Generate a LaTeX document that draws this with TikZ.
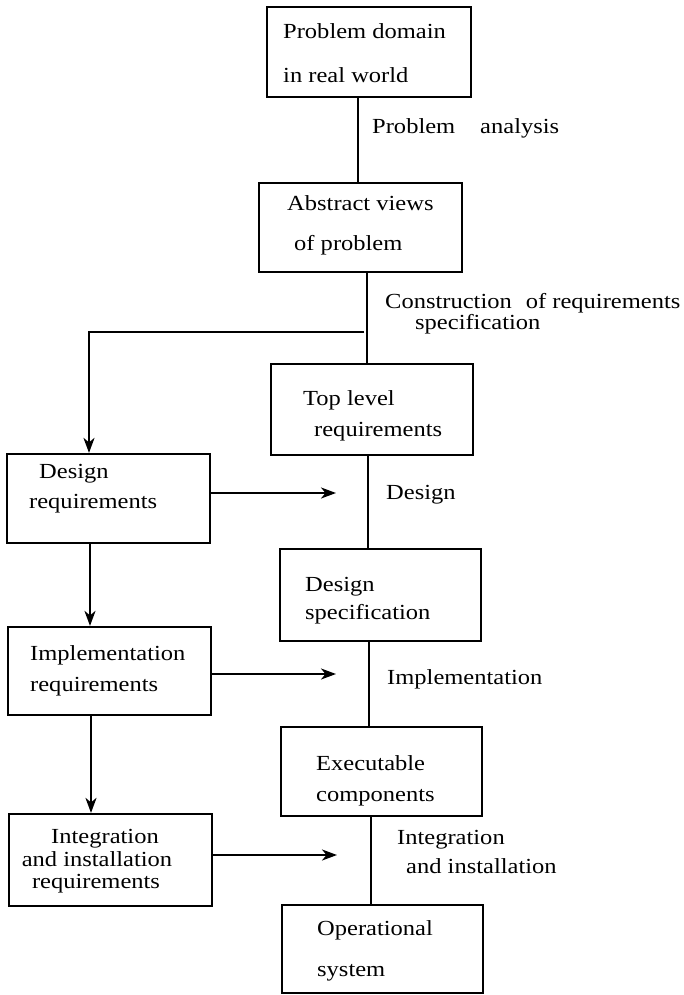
\documentclass[tikz,border=0pt]{standalone}
\usepackage{fontspec}
\setmainfont[FakeStretch=1.14]{Liberation Serif}
\usetikzlibrary{arrows.meta}
\begin{document}
\begin{tikzpicture}[x=1pt,y=-1pt,
  box/.style={draw, line width=2.2pt, inner sep=0pt},
  lbl/.style={inner sep=0pt, anchor=base west, font=\fontsize{21.5}{24}\selectfont},
  clbl/.style={inner sep=0pt, anchor=base, font=\fontsize{21.5}{24}\selectfont},
  spine/.style={line width=1.3pt},
  arr/.style={line width=2.2pt, -{Stealth[length=15pt,width=11pt,inset=4.5pt]}}]

% page frame
\fill[white] (0,0) rectangle (683,995);
\useasboundingbox (0,0) rectangle (683,995);

% main development chain (right column)
\node[box, minimum width=204pt, minimum height=90pt] (B1) at (369,52) {};
\node[box, minimum width=203pt, minimum height=89pt] (B2) at (360.5,227.5) {};
\node[box, minimum width=202pt, minimum height=91pt] (B3) at (372,409.5) {};
\node[box, minimum width=201pt, minimum height=92pt] (B4) at (380.5,595) {};
\node[box, minimum width=201pt, minimum height=89pt] (B5) at (381.5,771.5) {};
\node[box, minimum width=201pt, minimum height=88pt] (B6) at (382.5,949) {};

% requirements chain (left column)
\node[box, minimum width=203pt, minimum height=89pt] (L1) at (108.5,498.5) {};
\node[box, minimum width=203pt, minimum height=88pt] (L2) at (109.5,671) {};
\node[box, minimum width=203pt, minimum height=92pt] (L3) at (110.5,860) {};

% box texts
\node[lbl] (t1a) at (283,39) {Problem domain};
\node[lbl] (t1b) at (283,83) {in real world};
\node[lbl] (t2a) at (287,210) {Abstract views};
\node[lbl] (t2b) at (294,250) {of problem};
\node[lbl] (t3a) at (303,405) {Top level};
\node[lbl] (t3b) at (314,436) {requirements};
\node[lbl] (t4a) at (305,591) {Design};
\node[lbl] (t4b) at (305,619) {specification};
\node[lbl] (t5a) at (316,770) {Executable};
\node[lbl] (t5b) at (316,801) {components};
\node[lbl] (t6a) at (317,935) {Operational};
\node[lbl] (t6b) at (317,976) {system};

\node[lbl] (l1a) at (39,478) {Design};
\node[lbl] (l1b) at (29,508) {requirements};
\node[lbl] (l2a) at (30,660) {Implementation};
\node[lbl] (l2b) at (30,691) {requirements};
\node[clbl] (l3a) at (105,843) {Integration};
\node[clbl] (l3b) at (97,866) {and installation};
\node[clbl] (l3c) at (96,888) {requirements};

% step labels beside the spine
\node[lbl] (pa) at (372,134) {Problem\hspace{25pt}analysis};
\node[lbl] (cr) at (385,308) {Construction\hspace{14pt}of requirements};
\node[lbl] (cs) at (415,329) {specification};
\node[lbl] (dl) at (386,499) {Design};
\node[lbl] (il) at (387,684) {Implementation};
\node[lbl] (gl) at (397,844) {Integration};
\node[lbl] (gm) at (406,873) {and installation};

% spine connectors
\coordinate (sA) at (358,0);
\coordinate (sB) at (367,0);
\coordinate (sC) at (368,0);
\coordinate (sD) at (369,0);
\coordinate (sE) at (371,0);
\draw[spine] (B1.south -| sA) -- (B2.north -| sA);
\draw[spine] (B2.south -| sB) -- (B3.north -| sB);
\draw[spine] (B3.south -| sC) -- (B4.north -| sC);
\draw[spine] (B4.south -| sD) -- (B5.north -| sD);
\draw[spine] (B5.south -| sE) -- (B6.north -| sE);

% branch into the requirements chain
\coordinate (br) at (364,332);
\coordinate (lx1) at (89,0);
\coordinate (lx2) at (90,0);
\coordinate (lx3) at (91,0);
\draw[arr] (br) -| (L1.north -| lx1);
\draw[arr] (L1.south -| lx2) -- (L2.north -| lx2);
\draw[arr] (L2.south -| lx3) -- (L3.north -| lx3);

% requirements feeding each step
\coordinate (h1) at (336,493);
\coordinate (h2) at (336,674);
\coordinate (h3) at (337,855);
\draw[arr] (L1.east |- h1) -- (h1);
\draw[arr] (L2.east |- h2) -- (h2);
\draw[arr] (L3.east |- h3) -- (h3);
\end{tikzpicture}
\end{document}
